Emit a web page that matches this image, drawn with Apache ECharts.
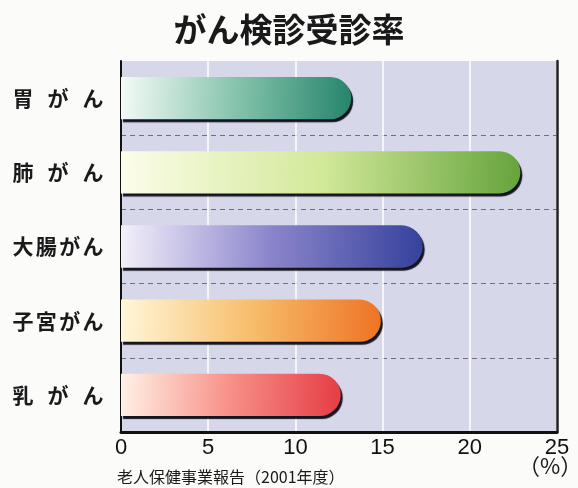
<!DOCTYPE html>
<html><head><meta charset="utf-8">
<script src="https://cdn.jsdelivr.net/npm/echarts@6/dist/echarts.min.js"></script>
<style>html,body{margin:0;padding:0;background:#fbfbfa;}#c{width:578px;height:488px;}</style>
</head><body><div id="c"></div>
<script>
const title = 'がん検診受診率';
const categories = ['胃がん', '肺がん', '大腸がん', '子宮がん', '乳がん'];
const rates = [13.2, 22.9, 17.3, 14.9, 12.6];
const xTicks = [0, 5, 10, 15, 20, 25];
const unitLabel = '（%）';
const sourceNote = '老人保健事業報告（2001年度）';

const gradients = [
  ['#f4fbf7', '#86c4ac', '#27856d'],
  ['#fcfde9', '#d3e99a', '#66a43c'],
  ['#f4f0fa', '#8a85cb', '#36429c'],
  ['#fff7da', '#f7be6c', '#ee7424'],
  ['#fff1e6', '#f79087', '#e53d46']
];
const fontJP = '"Noto Sans CJK JP", "Noto Sans", sans-serif';
const charW = 22, totalW = 92;

function richLabel(s) {
  const chars = Array.from(s);
  const n = chars.length;
  const parts = [];
  chars.forEach((ch, i) => {
    parts.push('{c|' + ch + '}');
    if (i < n - 1) parts.push('{g' + n + '| }');
  });
  return parts.join('');
}
const rich = { c: { width: charW, align: 'center', fontSize: 21, fontWeight: 'bold', color: '#1a1a1a', fontFamily: fontJP } };
[3, 4].forEach(n => { rich['g' + n] = { width: (totalW - n * charW) / (n - 1), fontSize: 21 }; });

const chart = echarts.init(document.getElementById('c'));
chart.setOption({
  backgroundColor: '#fbfbfa',
  title: {
    text: title, left: 'center', top: 8,
    textStyle: { fontSize: 33, fontWeight: 'bold', color: '#1a1a1a', fontFamily: fontJP }
  },
  grid: { left: 121, right: 21, top: 61, bottom: 56, show: true, backgroundColor: '#d7d7ea', borderWidth: 0 },
  xAxis: {
    type: 'value', min: xTicks[0], max: xTicks[xTicks.length - 1], interval: 5,
    axisLine: { show: true, lineStyle: { color: '#111', width: 3 } },
    axisTick: { show: false },
    splitLine: { show: true, lineStyle: { color: '#ffffff', width: 1.5 } },
    axisLabel: { margin: 5, fontSize: 22, color: '#111', fontFamily: '"Liberation Sans", Arial, sans-serif',
      formatter: v => String(v) }
  },
  yAxis: [{
    type: 'category', data: categories, inverse: true,
    axisLine: { show: true, lineStyle: { color: '#111', width: 2 } },
    axisTick: { show: false },
    splitLine: { show: true, showMinLine: false, showMaxLine: false, lineStyle: { color: '#6e6e80', width: 1, type: [5, 4] } },
    axisLabel: { align: 'left', margin: 109, formatter: v => richLabel(v), rich: rich }
  }, {
    type: 'category', data: categories, inverse: true, position: 'right',
    axisLine: { show: true, lineStyle: { color: '#222', width: 2.5 } },
    axisTick: { show: false }, axisLabel: { show: false }, splitLine: { show: false }
  }],
  series: [{
    type: 'bar', barWidth: '57%',
    data: rates.map((v, i) => ({
      value: v,
      itemStyle: {
        color: new echarts.graphic.LinearGradient(0, 0, 1, 0.3, [
          { offset: 0, color: gradients[i][0] },
          { offset: 0.5, color: gradients[i][1] },
          { offset: 1, color: gradients[i][2] }
        ])
      }
    })),
    itemStyle: {
      borderRadius: [0, 22, 22, 0],
      shadowColor: 'rgba(10,10,20,0.95)', shadowOffsetX: 2, shadowOffsetY: 3, shadowBlur: 1
    }
  }],
  graphic: [
    { type: 'text', left: 518, top: 455, style: { text: unitLabel, fontSize: 22, fill: '#1a1a1a', fontFamily: fontJP } },
    { type: 'text', left: 117, top: 469, style: { text: sourceNote, fontSize: 16, fill: '#1a1a1a', fontFamily: fontJP } }
  ]
});
</script></body></html>
